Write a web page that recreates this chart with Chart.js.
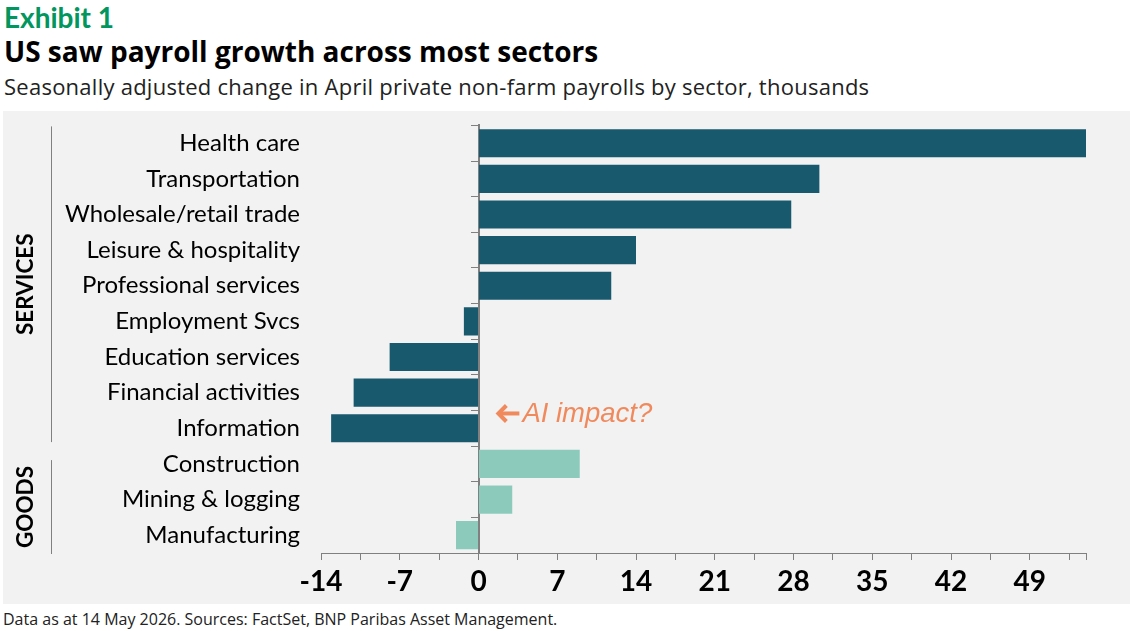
<!DOCTYPE html>
<html>
<head>
<meta charset="utf-8">
<script src="https://cdn.jsdelivr.net/npm/chart.js@4"></script>
<style>
  body { margin: 0; width: 1132px; height: 631px; background: #fff; font-family: "Open Sans", sans-serif; position: relative; overflow: hidden; }
  .t { position: absolute; left: 4px; white-space: nowrap; }
  #exhibit { top: 1px; font-family: Lato, sans-serif; font-size: 28px; font-weight: 700; color: #00965e; line-height: 32px; }
  #title { top: 33px; font-size: 28px; font-weight: 700; color: #000; line-height: 36px; }
  #subtitle { top: 72px; font-size: 22px; letter-spacing: 0.25px; color: #222; line-height: 28px; }
  #note { top: 608px; left: 3px; font-size: 16px; color: #222; line-height: 22px; }
  #panel { position: absolute; left: 3px; top: 111px; width: 1127px; height: 493px; background: #f2f2f2; }
  canvas { display: block; }
</style>
</head>
<body>
<div class="t" id="exhibit">Exhibit 1</div>
<div class="t" id="title">US saw payroll growth across most sectors</div>
<div class="t" id="subtitle">Seasonally adjusted change in April private non-farm payrolls by sector, thousands</div>
<div id="panel"><canvas id="chart" width="1127" height="493"></canvas></div>
<div class="t" id="note">Data as at 14 May 2026. Sources: FactSet, BNP Paribas Asset Management.</div>
<script>
const sectors = ['Health care', 'Transportation', 'Wholesale/retail trade', 'Leisure & hospitality',
  'Professional services', 'Employment Svcs', 'Education services', 'Financial activities',
  'Information', 'Construction', 'Mining & logging', 'Manufacturing'];
const changes = [54, 30.3, 27.8, 14, 11.8, -1.3, -7.9, -11.1, -13.1, 9, 3, -2];
const groups = ['SERVICES', 'SERVICES', 'SERVICES', 'SERVICES', 'SERVICES', 'SERVICES', 'SERVICES',
  'SERVICES', 'SERVICES', 'GOODS', 'GOODS', 'GOODS'];
const tickValues = [-14, -10.5, -7, -3.5, 0, 3.5, 7, 10.5, 14, 17.5, 21, 24.5, 28, 31.5, 35, 38.5, 42, 45.5, 49, 52.5, 54];
const labelledTicks = [-14, -7, 0, 7, 14, 21, 28, 35, 42, 49];

const servicesColor = '#19596e';
const goodsColor = '#8ccbbb';
const axisGray = '#808080';

// group brackets, labels and the "AI impact?" note
const extras = {
  id: 'extras',
  afterDraw(chart) {
    const ctx = chart.ctx;
    const y = chart.scales.y;
    const x = chart.scales.x;
    const step = y.getPixelForValue(1) - y.getPixelForValue(0);
    const lineX = 48;
    const spans = [
      { name: 'SERVICES', top: y.getPixelForValue(0) - step / 2 + 1, bottom: y.getPixelForValue(8) + step / 2 - 4 },
      { name: 'GOODS', top: y.getPixelForValue(9) - step / 2 + 14, bottom: y.getPixelForValue(11) + step / 2 + 1 }
    ];
    ctx.save();
    ctx.strokeStyle = axisGray;
    ctx.lineWidth = 1;
    ctx.fillStyle = '#000';
    ctx.font = '700 22.5px Lato';
    ctx.textAlign = 'center';
    ctx.textBaseline = 'middle';
    spans.forEach(s => {
      ctx.beginPath();
      ctx.moveTo(lineX + 0.5, s.top);
      ctx.lineTo(lineX + 0.5, s.bottom);
      ctx.stroke();
      ctx.save();
      ctx.translate(23, (s.top + s.bottom) / 2);
      ctx.rotate(-Math.PI / 2);
      ctx.fillText(s.name, 0, 0);
      ctx.restore();
    });

    // annotation
    const ax = x.getPixelForValue(1.5);
    const ay = (y.getPixelForValue(7) + y.getPixelForValue(8)) / 2 + 3;
    ctx.fillStyle = '#f08a5d';
    ctx.strokeStyle = '#f08a5d';
    ctx.lineWidth = 4;
    ctx.beginPath();
    ctx.moveTo(ax + 24, ay);
    ctx.lineTo(ax + 4, ay);
    ctx.stroke();
    ctx.beginPath();
    ctx.moveTo(ax + 11, ay - 8);
    ctx.lineTo(ax + 3, ay);
    ctx.lineTo(ax + 11, ay + 8);
    ctx.stroke();
    ctx.font = 'italic 27.5px "Liberation Sans", Arial, sans-serif';
    ctx.textAlign = 'left';
    ctx.fillText('AI impact?', ax + 27, ay + 1);
    ctx.restore();
  }
};

new Chart(document.getElementById('chart'), {
  type: 'bar',
  data: {
    labels: sectors,
    datasets: [{
      data: changes,
      backgroundColor: groups.map(g => g === 'GOODS' ? goodsColor : servicesColor),
      borderWidth: 0,
      barPercentage: 0.79,
      categoryPercentage: 1
    }]
  },
  options: {
    indexAxis: 'y',
    responsive: false,
    animation: false,
    devicePixelRatio: 1,
    layout: { padding: { top: 14, right: 44, left: 0, bottom: 0 } },
    plugins: { legend: { display: false }, tooltip: { enabled: false } },
    scales: {
      x: {
        min: -14,
        max: 54,
        afterBuildTicks: s => { s.ticks = tickValues.map(v => ({ value: v })); },
        afterFit: s => { s.height = 51; },
        border: { color: axisGray, width: 1 },
        grid: { drawOnChartArea: false, drawTicks: true, tickLength: 7, color: axisGray },
        ticks: {
          autoSkip: false,
          maxRotation: 0,
          padding: 5,
          color: '#000',
          font: { family: 'Lato', size: 28, weight: '700' },
          callback: v => labelledTicks.includes(v) ? String(v) : ''
        }
      },
      y: {
        afterFit: s => { s.width = 318; },
        border: { display: false },
        grid: { display: false, drawTicks: true, tickLength: 21 },
        ticks: {
          padding: 0,
          color: '#000',
          font: { family: 'Lato', size: 24 }
        }
      },
      y2: {
        type: 'category',
        axis: 'y',
        labels: sectors,
        position: { x: 0 },
        offset: true,
        border: { color: axisGray, width: 2 },
        grid: { offset: true, drawOnChartArea: false, drawTicks: true, tickLength: 7, color: axisGray, width: 2 },
        ticks: { display: false }
      }
    }
  },
  plugins: [extras]
});
</script>
</body>
</html>
